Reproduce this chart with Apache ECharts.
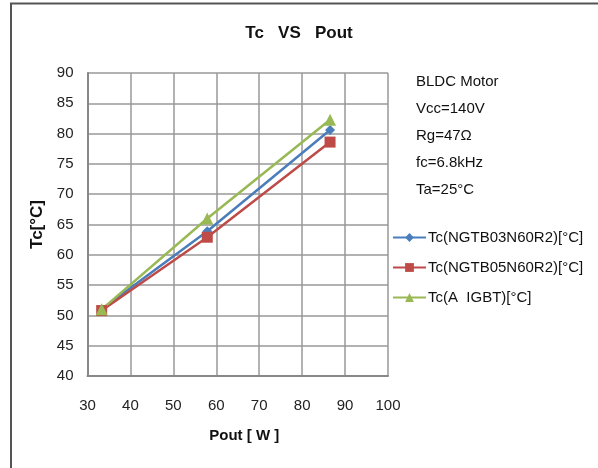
<!DOCTYPE html>
<html><head><meta charset="utf-8">
<script src="https://cdn.jsdelivr.net/npm/echarts@6/dist/echarts.min.js"></script>
<style>html,body{margin:0;padding:0;background:#fff}#c{width:598px;height:468px}</style>
</head><body><div id="c"></div>
<script>
const pout = [33.3, 57.9, 86.5];
const tcNGTB03 = [51.0, 63.9, 80.6];
const tcNGTB05 = [50.8, 62.9, 78.6];
const tcAIGBT = [51.0, 66.0, 82.3];
const seriesNames = ['Tc(NGTB03N60R2)[°C]', 'Tc(NGTB05N60R2)[°C]', 'Tc(A  IGBT)[°C]'];
const notes = ['BLDC Motor', 'Vcc=140V', 'Rg=47Ω', 'fc=6.8kHz', 'Ta=25°C'];

const pair = (xs, ys) => xs.map((x, i) => [x, ys[i]]);
const chart = echarts.init(document.getElementById('c'));
const labFont = 'Liberation Sans, Arial, sans-serif';
const colors = ['#4A7EBB', '#BE4B48', '#98B954'];
const symbols = ['diamond', 'rect', 'triangle'];
const sizes = [10, 11, 12];
const datas = [tcNGTB03, tcNGTB05, tcAIGBT];

chart.setOption({
  animation: false,
  grid: { left: 87.5, top: 73, right: 210, bottom: 92 },
  xAxis: {
    type: 'value', min: 30, max: 100, interval: 10,
    name: 'Pout [ W ]', nameLocation: 'middle', nameGap: 52,
    nameTextStyle: { fontFamily: labFont, fontWeight: 'bold', fontSize: 15, color: '#111', padding: [0, 0, 0, 13] },
    axisLine: { lineStyle: { color: '#888', width: 2 } },
    axisTick: { show: false },
    axisLabel: { fontFamily: labFont, fontSize: 15, color: '#222', margin: 22 },
    splitLine: { lineStyle: { color: '#999', width: 1.5 } }
  },
  yAxis: {
    type: 'value', min: 40, max: 90, interval: 5,
    name: 'Tc[°C]', nameLocation: 'middle', nameGap: 37, nameRotate: 90,
    nameTextStyle: { fontFamily: labFont, fontWeight: 'bold', fontSize: 17, color: '#111' },
    axisLine: { show: true, lineStyle: { color: '#888', width: 2 } },
    axisTick: { show: false },
    axisLabel: { fontFamily: labFont, fontSize: 15, color: '#222', margin: 14 },
    splitLine: { lineStyle: { color: '#999', width: 1.5 } }
  },
  legend: {
    orient: 'vertical', left: 387, top: 225, itemGap: 15, itemWidth: 33, itemHeight: 11,
    textStyle: { fontFamily: labFont, fontSize: 15, color: '#111', padding: [0, 0, 0, -3] },
    data: seriesNames
  },
  series: datas.map((d, i) => ({
    name: seriesNames[i], type: 'line', data: pair(pout, d),
    symbol: symbols[i], symbolSize: sizes[i],
    itemStyle: { color: colors[i] },
    lineStyle: { color: colors[i], width: 2.5 }
  })),
  graphic: [
    { type: 'rect', shape: { x: 11, y: 3.5, width: 600, height: 480 }, style: { fill: 'none', stroke: '#555', lineWidth: 2 }, silent: true },
    { type: 'text', left: 'center', top: 25, style: { text: 'Tc   VS   Pout', font: 'bold 17px Liberation Sans, Arial, sans-serif', fill: '#111' } }
  ].concat(notes.map((t, i) => ({
    type: 'text', x: 416, y: 82 + i * 27,
    style: { text: t, font: '15px ' + labFont, fill: '#111', textVerticalAlign: 'middle' }
  })))
});
</script></body></html>
